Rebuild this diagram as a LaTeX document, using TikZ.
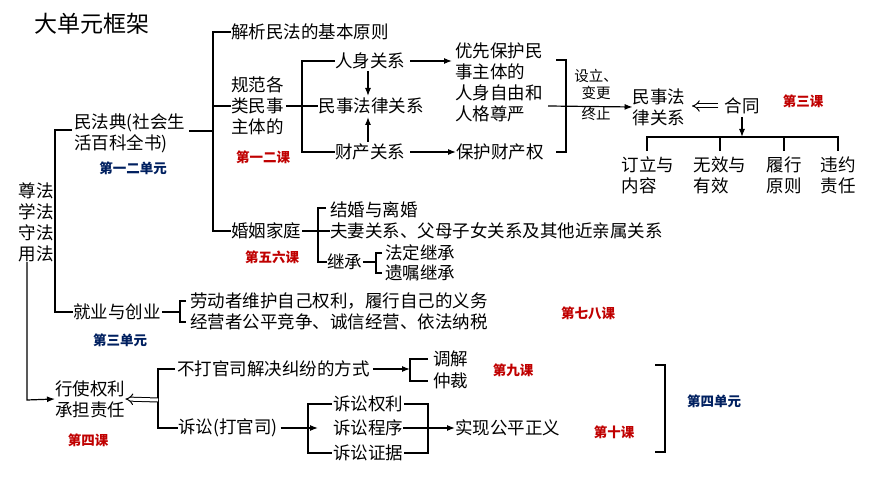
\documentclass[tikz,border=0pt]{standalone}
\usepackage{fontspec}
\setmainfont{Noto Sans CJK SC}
\usetikzlibrary{arrows.meta}
\begin{document}
\begin{tikzpicture}[x=1pt,y=-1pt,
  t/.style={inner sep=0pt,font=\fontsize{17.5}{21}\selectfont,align=left},
  st/.style={inner sep=0pt,font=\fontsize{14.5}{17}\selectfont,align=center},
  red/.style={inner sep=0pt,font=\fontsize{13.5}{15}\selectfont\bfseries,text={rgb,255:red,192;green,0;blue,0}},
  blue/.style={inner sep=0pt,font=\fontsize{13.5}{15}\selectfont\bfseries,text={rgb,255:red,0;green,32;blue,96}},
  ln/.style={line width=1.2pt},
  ar/.style={line width=1.2pt,-{Latex[length=8pt,width=6pt]}},
  dar/.style={double,double distance=3pt,line width=1pt,-{Implies}}]
\fill[white] (0,0) rectangle (870,489);
\node[inner sep=0pt,font=\fontsize{23}{26}\selectfont] (title) at (92,24) {大单元框架};
\node[t,align=center] (root) at (36,222) {尊法\\学法\\守法\\用法};
\node[t,anchor=west] (mfd) at (74,133) {民法典(社会生\\活百科全书)};
\node[blue] (u12) at (133,168) {第一二单元};
\node[t,anchor=west] (jx) at (231,32) {解析民法的基本原则};
\node[t,anchor=west] (gf) at (231,106) {规范各\\类民事\\主体的};
\node[red] (k12) at (263,157) {第一二课};
\node[t] (rs) at (370,61) {人身关系};
\node[t] (ms) at (371,106) {民事法律关系};
\node[t] (cc) at (370,152) {财产关系};
\node[t,anchor=west] (yx) at (455,82) {优先保护民\\事主体的\\人身自由和\\人格尊严};
\node[t,anchor=west] (bh) at (456,152) {保护财产权};
\node[st] (sl) at (596,95) {设立、\\变更\\\rule{0pt}{19pt}终止};
\node[t] (msf) at (659,107) {民事法\\律关系};
\node[t] (ht) at (742,106) {合同};
\node[red] (k3) at (803,101) {第三课};
\node[t] (d1) at (648,175) {订立与\\内容};
\node[t] (d2) at (720,175) {无效与\\有效};
\node[t] (d3) at (784,175) {履行\\原则};
\node[t] (d4) at (838,175) {违约\\责任};
\node[t,anchor=west] (hy) at (231,231) {婚姻家庭};
\node[red] (k56) at (272,257) {第五六课};
\node[t,anchor=west] (jh) at (330,210) {结婚与离婚};
\node[t,anchor=west] (fq) at (330,231) {夫妻关系、父母子女关系及其他近亲属关系};
\node[t,anchor=west] (jc) at (327,262) {继承};
\node[t,anchor=west] (fd) at (385,253) {法定继承};
\node[t,anchor=west] (yz) at (385,273) {遗嘱继承};
\node[t,anchor=west] (jy) at (73,312) {就业与创业};
\node[blue] (u3) at (120,340) {第三单元};
\node[t,anchor=west] (ld) at (190,301) {劳动者维护自己权利，履行自己的义务};
\node[t,anchor=west] (jyz) at (190,322) {经营者公平竞争、诚信经营、依法纳税};
\node[red] (k78) at (588,313) {第七八课};
\node[t,anchor=west] (xs) at (55,399) {行使权利\\承担责任};
\node[red] (k4) at (88,440) {第四课};
\node[t,anchor=west] (bd) at (177,369) {不打官司解决纠纷的方式};
\node[t,anchor=west] (tj) at (433,359) {调解};
\node[t,anchor=west] (zc) at (433,381) {仲裁};
\node[red] (k9) at (513,370) {第九课};
\node[t,anchor=west] (ss) at (178,428) {诉讼(打官司)};
\node[t] (q1) at (368,404) {诉讼权利};
\node[t] (q2) at (368,428) {诉讼程序};
\node[t] (q3) at (368,453) {诉讼证据};
\node[t,anchor=west] (sx) at (455,428) {实现公平正义};
\node[red] (k10) at (614,432) {第十课};
\node[blue] (u4) at (714,401) {第四单元};
\draw[ln] (72,130) -- (55,130) -- (55,312) -- (jy.west);
\draw[ar] (27,262) -- (27,400) -- (xs.west);
\draw[ln] (mfd.east)++(4,-2) -- (213,131);
\draw[ln] (jx.west) -- (213,32) -- (213,231) -- (hy.west);
\draw[ln] (213,106) -- (gf.west);
\draw[ln] (gf.east)++(2,0) -- (302,106);
\draw[ln] (rs.west) -- (302,61) -- (302,152) -- (cc.west);
\draw[ln] (302,106) -- (ms.west);
\draw[ar] (368,71) -- (368,96);
\draw[ar] (368,142) -- (368,117);
\draw[ar] (rs.east) ++(5,0) -- (452,61);
\draw[ar] (cc.east) ++(5,0) -- (bh.west);
\draw[ln] (556,60) -- (566,60) -- (566,152) -- (556,152);
\draw[ar] (548,106) -- (msf.west);
\draw[dar] (ht.west)++(-6,0) -- (692,106);
\draw[ar] (742,117) -- (742,137);
\draw[ln] (647,151) -- (647,137) -- (838,137) -- (838,151);
\draw[ln] (720,137) -- (720,151);
\draw[ln] (784,137) -- (784,151);
\draw[ln] (hy.east)++(1,0) -- (fq.west);
\draw[ln] (326,208) -- (318,208) -- (318,262) -- (jc.west);
\draw[ln] (382,253) -- (376,253) -- (376,273) -- (382,273);
\draw[ln] (jc.east) ++(1,0) -- (376,262);
\draw[ln] (186,301) -- (180,301) -- (180,322) -- (186,322);
\draw[ln] (jy.east)++(1,0) -- (180,312);
\draw[ln] (bd.west) ++(-2,0) -- (158,369) -- (158,428) -- (ss.west);
\draw[dar] (158,400) -- (xs.east);
\draw[ar] (bd.east) ++(3,0) -- (410,369);
\draw[ln] (428,359) -- (410,359) -- (410,381) -- (428,381);
\draw[ar] (ss.east) ++(3,0) -- (318,428);
\draw[ln] (332,404) -- (308,404) -- (308,453) -- (332,453);
\draw[ln] (404,404) -- (428,404) -- (428,453) -- (404,453);
\draw[ar] (q2.east) -- (sx.west);
\draw[ln] (655,365) -- (665,365) -- (665,452) -- (655,452);
\end{tikzpicture}
\end{document}
